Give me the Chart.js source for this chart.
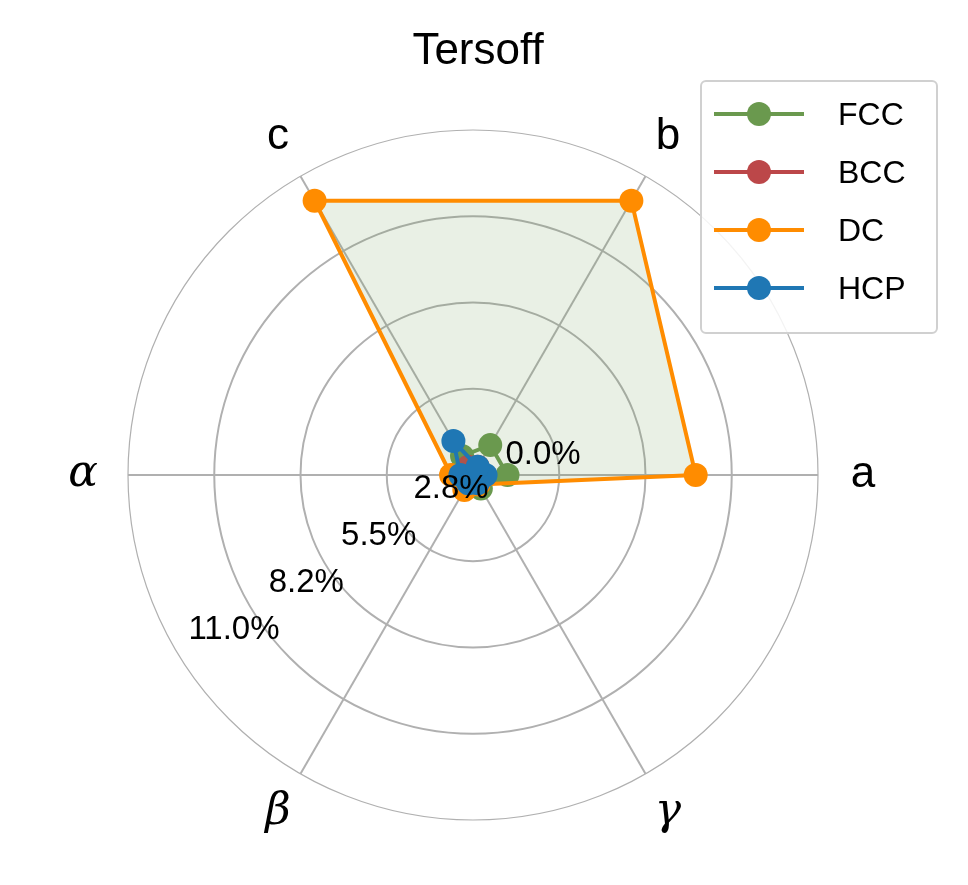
<!DOCTYPE html>
<html>
<head>
<meta charset="utf-8">
<script src="https://cdn.jsdelivr.net/npm/chart.js@4"></script>
<style>
  body { margin: 0; background: #fff; }
  #wrap { position: relative; width: 968px; height: 885px; }
  #legend { position: absolute; left: 700px; top: 80px; width: 238px; height: 254px;
    border: 2px solid #d0d0d0; border-radius: 6px; background: rgba(255,255,255,0.85);
    font-family: "Liberation Sans", Arial, sans-serif; font-size: 32px; box-sizing: border-box; }
  .row { position: absolute; left: 12px; height: 40px; display: flex; align-items: center; }
  .sw { position: relative; width: 90px; height: 40px; margin-right: 34px; }
  .sw .ln { position: absolute; left: 0; top: 18px; width: 90px; height: 4px; }
  .sw .dot { position: absolute; left: 33px; top: 8px; width: 24px; height: 24px; border-radius: 50%; }
</style>
</head>
<body>
<div id="wrap">
  <canvas id="radar" width="968" height="885"></canvas>
  <div id="legend"></div>
</div>
<script>
// axis labels in chart.js order (clockwise from the right)
const axes = ['a', 'γ', 'β', 'α', 'c', 'b'];
const seriesNames = ['FCC', 'BCC', 'DC', 'HCP'];
const seriesColors = ['#6a994e', '#bc4749', '#ff8c00', '#1f77b4'];
const fccValues = [1.1, 0.5, 0.5, 0.6, 0.7, 1.1];
const bccValues = [0.3, 0.3, 0.3, 0.3, 0.3, 0.3];
const dcValues = [7.1, 0.35, 0.55, 0.7, 10.1, 10.1];
const hcpValues = [0.4, 0.3, 0.3, 0.4, 1.25, 0.3];
const tickValues = [0, 2.75, 5.5, 8.25, 11.0];
const tickLabels = ['0.0%', '2.8%', '5.5%', '8.2%', '11.0%'];

const allValues = [fccValues, bccValues, dcValues, hcpValues];
const drawOrder = [3, 2, 1, 0]; // lower = drawn on top
const font = '"Liberation Sans", Arial, sans-serif';

const datasets = seriesNames.map((name, i) => ({
  label: name,
  data: allValues[i],
  order: drawOrder[i],
  borderColor: seriesColors[i],
  backgroundColor: name === 'DC' ? 'rgba(106,153,78,0.15)' : 'rgba(0,0,0,0)',
  fill: name === 'DC',
  borderWidth: 4,
  pointRadius: 12,
  pointBackgroundColor: seriesColors[i],
  pointBorderWidth: 0
}));

const overlay = {
  id: 'overlay',
  afterDraw(chart) {
    const ctx = chart.ctx;
    const s = chart.scales.r;
    ctx.save();
    ctx.fillStyle = '#000';
    ctx.textAlign = 'center';
    ctx.textBaseline = 'middle';
    ctx.font = '44px ' + font;
    ctx.fillText('Tersoff', 478, 52);
    // axis labels
    axes.forEach((lab, i) => {
      const p = s.getPointPosition(i, s.drawingArea + 45);
      if (/[αβγ]/.test(lab)) ctx.font = 'italic 44px "DejaVu Serif", serif';
      else ctx.font = '44px ' + font;
      ctx.fillText(lab, p.x, p.y);
    });
    // radial tick labels along ~213 degrees
    ctx.font = '33px ' + font;
    const ang = 213 * Math.PI / 180;
    tickValues.forEach((v, i) => {
      let x, y;
      if (i === 0) { x = s.xCenter + 70; y = s.yCenter - 20; }
      else {
        const d = s.getDistanceFromCenterForValue(v) - 60;
        x = s.xCenter + Math.cos(ang) * d;
        y = s.yCenter - Math.sin(ang) * d;
      }
      ctx.fillText(tickLabels[i], x, y);
    });
    ctx.restore();
  }
};

new Chart(document.getElementById('radar'), {
  type: 'radar',
  data: { labels: axes, datasets: datasets },
  options: {
    responsive: false,
    animation: false,
    layout: { padding: { left: 128, right: 150, top: 130, bottom: 65 } },
    plugins: { legend: { display: false }, tooltip: { enabled: false } },
    elements: { line: { tension: 0 } },
    scales: {
      r: {
        min: 0, max: 11, startAngle: 90,
        ticks: { display: false, stepSize: 2.75 },
        pointLabels: { display: false },
        grid: { circular: true, color: '#b0b0b0', lineWidth: (c) => c.index === 4 ? 1.2 : 2 },
        angleLines: { color: '#b0b0b0', lineWidth: 2 }
      }
    }
  },
  plugins: [overlay]
});

const legend = document.getElementById('legend');
seriesNames.forEach((name, i) => {
  const row = document.createElement('div');
  row.className = 'row';
  row.style.top = (12 + i * 58) + 'px';
  row.innerHTML = '<div class="sw"><div class="ln" style="background:' + seriesColors[i] +
    '"></div><div class="dot" style="background:' + seriesColors[i] + '"></div></div><span>' + name + '</span>';
  legend.appendChild(row);
});
</script>
</body>
</html>
